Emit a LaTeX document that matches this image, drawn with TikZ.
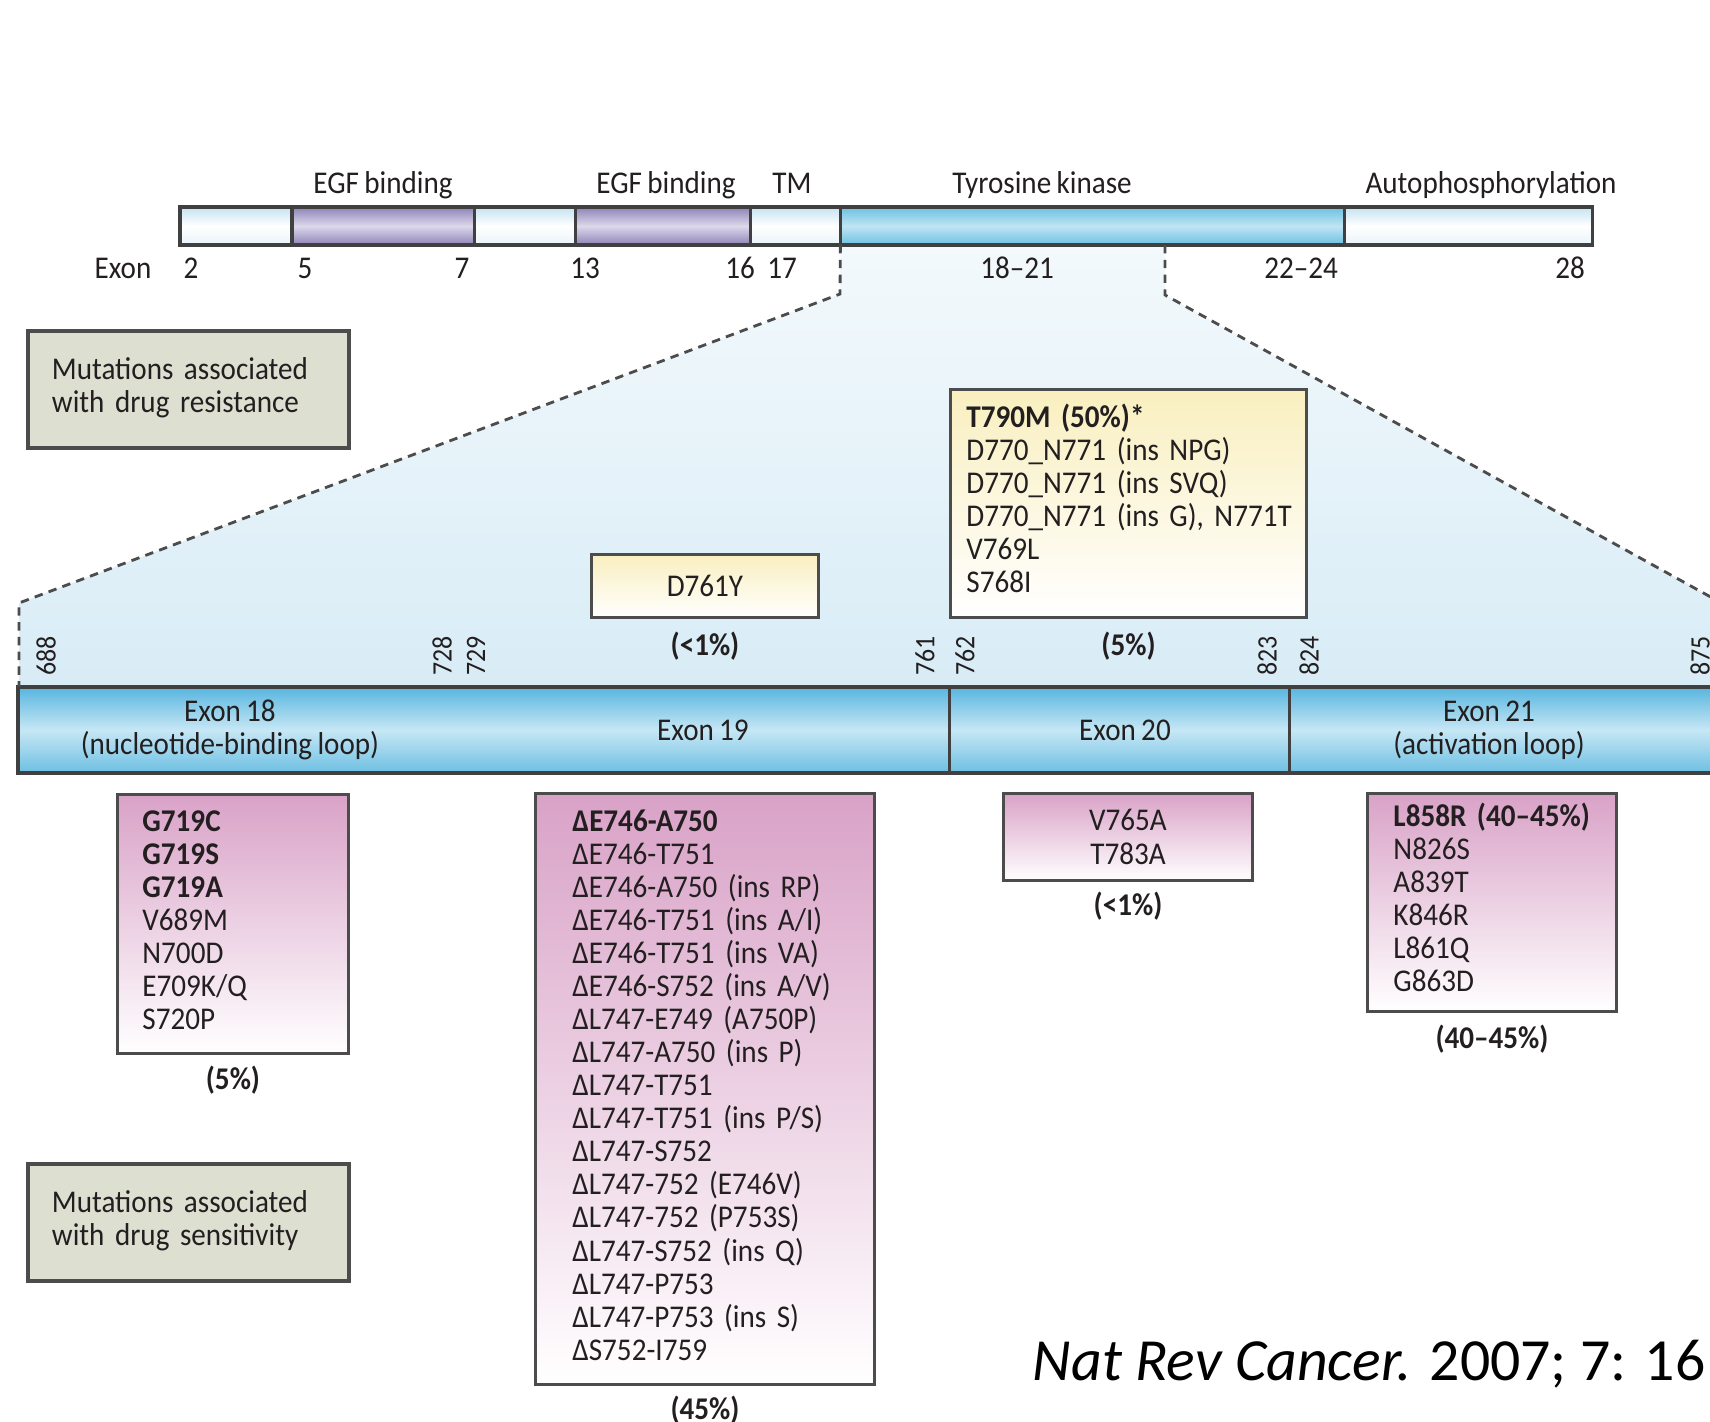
\documentclass[tikz,border=0pt]{standalone}
\usepackage{fontspec}
\setmainfont{Carlito}[FakeStretch=0.92]
\newfontfamily\citefont{Carlito}
\usetikzlibrary{positioning,backgrounds}

\newcommand\tightspace{\spaceskip=0.17em plus 0.05em minus 0.02em\relax}

\definecolor{liteTop}{HTML}{C4E3F1}
\definecolor{liteBot}{HTML}{E8F4FA}
\definecolor{purpEdge}{HTML}{8E82B7}
\definecolor{purpMid}{HTML}{DDD8EB}
\definecolor{kinEdge}{HTML}{6CC1E2}
\definecolor{kinMid}{HTML}{C0E4F3}
\definecolor{exTop}{HTML}{57B5DE}
\definecolor{exMid}{HTML}{C6E7F5}
\definecolor{exBot}{HTML}{6DBFE2}
\definecolor{fanTop}{HTML}{F3F9FC}
\definecolor{fanBot}{HTML}{D8ECF6}
\definecolor{mauve}{HTML}{D9A2C7}
\definecolor{paleYel}{HTML}{F9EFBF}
\definecolor{legGrey}{HTML}{DDDFD1}
\definecolor{ink}{HTML}{231F20}

\begin{document}
\begin{tikzpicture}[
  x=0.01cm, y=-0.01cm,
  font=\fontsize{9}{9.4}\selectfont\tightspace, text=ink,
  segm/.style={draw=black!75, line width=0.9pt, minimum height=0.38cm, inner sep=0, outer sep=0},
  lite/.style={segm, top color=liteTop, bottom color=liteBot, middle color=white},
  purp/.style={segm, top color=purpEdge, bottom color=purpEdge, middle color=purpMid},
  kin/.style={segm, top color=kinEdge, bottom color=kinEdge, middle color=kinMid},
  exbar/.style={draw=black!75, line width=0.9pt, minimum height=0.86cm, inner sep=0, outer sep=0,
    top color=exTop, bottom color=exBot, middle color=exMid},
  lbl/.style={inner sep=0, anchor=base},
  aanum/.style={font=\fontsize{8}{8}\selectfont, rotate=90, anchor=west, inner sep=0},
  mutbox/.style={draw=black!70, line width=0.8pt, top color=mauve, bottom color=white,
    anchor=north west, inner ysep=0pt, align=left},
  resbox/.style={draw=black!70, line width=0.8pt, top color=paleYel, bottom color=white,
    anchor=north west, inner ysep=0pt, align=left},
  legbox/.style={draw=black!70, line width=1.1pt, fill=legGrey, anchor=north west, align=left,
    text width=2.73cm, inner xsep=0.24cm, inner ysep=0pt, minimum height=1.17cm},
  pct/.style={font=\fontsize{9}{9.4}\selectfont\bfseries, inner sep=0},
  cut/.style={draw=black!70, line width=0.8pt, dash pattern=on 2.4pt off 1.8pt},
]
\useasboundingbox (0,0) rectangle (1710,1421);

% ---------------- protein bar ----------------
\node[lite, minimum width=1.12cm, anchor=north west] (s1) at (180,207) {};
\node[purp, right=0pt of s1, minimum width=1.82cm] (s2) {};
\node[lite, right=0pt of s2, minimum width=1.01cm] (s3) {};
\node[purp, right=0pt of s3, minimum width=1.75cm] (s4) {};
\node[lite, right=0pt of s4, minimum width=0.90cm] (s5) {};
\node[kin, right=0pt of s5, minimum width=5.04cm] (s6) {};
\node[lite, right=0pt of s6, minimum width=2.48cm] (s7) {};

\node[lbl] (egf1) at (383,193) {EGF binding};
\node[lbl] (egf2) at (666,193) {EGF binding};
\node[lbl] (tm) at (792,193) {TM};
\node[lbl] (tk) at (1042,193) {Tyrosine kinase};
\node[lbl] (auto) at (1491,193) {Autophosphorylation};

\node[lbl] (exword) at (123,278) {Exon};
\node[lbl] (e2) at (191,278) {2};
\node[lbl] (e5) at (305,278) {5};
\node[lbl] (e7) at (462,278) {7};
\node[lbl] (e13) at (585,278) {13};
\node[lbl] (e16) at (740,278) {16};
\node[lbl] (e17) at (782,278) {17};
\node[lbl] (e1821) at (1017,278) {18--21};
\node[lbl] (e2224) at (1301,278) {22--24};
\node[lbl] (e28) at (1570,278) {28};

% ---------------- kinase domain ----------------
\node[exbar, minimum width=9.31cm, anchor=north west] (ex1819) at (18,687) {};
\node[exbar, right=0pt of ex1819, minimum width=3.40cm] (ex20) {};
\node[exbar, right=0pt of ex20, minimum width=4.56cm] (ex21) {};

\node[align=center] (lab18) at (230,730) {Exon 18\\(nucleotide-binding loop)};
\node (lab19) at (703,730) {Exon 19};
\node (lab20) at (1125,730) {Exon 20};
\node[align=center] (lab21) at (1489,730) {Exon 21\\(activation loop)};

\foreach \xx/\nn in {46/688, 442/728, 476/729, 925/761, 965/762, 1267/823, 1309/824, 1700/875}
  \node[aanum] (aa\nn) at (\xx,676) {\nn};

% ---------------- zoom lines ----------------
\coordinate (cutR) at (1165,245);
\coordinate (bendL1) at (840,294);
\coordinate (bendL2) at (19,603);
\coordinate (bendR1) at (1165,295);
\coordinate (bendR2) at (1745,616);
\coordinate (fanBR) at (1745,687);

\begin{scope}[on background layer]
\fill[white] (0,0) rectangle (1710,1421);
\shade[top color=fanTop, bottom color=fanBot] (s6.south west) -- (cutR) -- (bendR1) -- (bendR2)
  -- (fanBR) -- (bendL2 |- ex1819.north) -- (bendL2) -- (bendL1) -- cycle;
\end{scope}
\draw[cut] (s6.south west) -- (bendL1) -- (bendL2) -- (bendL2 |- ex1819.north);
\draw[cut] (cutR) -- (bendR1) -- (bendR2);

% ---------------- resistance ----------------
\node[legbox] (legres) at (26,329)
  {\begin{tabular}{@{}l@{}}Mutations associated\\with drug resistance\end{tabular}};

\node[resbox, align=center, minimum width=2.27cm, minimum height=0.63cm, inner xsep=0pt] (d761) at (590,553) {D761Y};
\node[pct, below=1.2mm of d761] (pd761) {(<1\%)};

\node[resbox, text width=3.24cm, inner xsep=0.16cm, minimum height=2.28cm] (t790) at (949,388)
  {\begin{tabular}{@{}l@{}}
    \textbf{T790M (50\%)*}\\
    D770\_N771 (ins NPG)\\
    D770\_N771 (ins SVQ)\\
    D770\_N771 (ins G), N771T\\
    V769L\\
    S768I
  \end{tabular}};
\node[pct, below=1.2mm of t790] (pt790) {(5\%)};

% ---------------- sensitivity ----------------
\node[mutbox, text width=1.81cm, inner xsep=0.25cm, minimum height=2.59cm] (g719) at (116,793)
  {\begin{tabular}{@{}l@{}}
    \textbf{G719C}\\ \textbf{G719S}\\ \textbf{G719A}\\
    V689M\\ N700D\\ E709K/Q\\ S720P
  \end{tabular}};
\node[pct, below=1mm of g719] (pg719) {(5\%)};

\node[mutbox, text width=2.65cm, inner xsep=0.37cm, minimum height=5.91cm] (del19) at (534,792)
  {\begin{tabular}{@{}l@{}}
    \textbf{ΔE746-A750}\\
    ΔE746-T751\\
    ΔE746-A750 (ins RP)\\
    ΔE746-T751 (ins A/I)\\
    ΔE746-T751 (ins VA)\\
    ΔE746-S752 (ins A/V)\\
    ΔL747-E749 (A750P)\\
    ΔL747-A750 (ins P)\\
    ΔL747-T751\\
    ΔL747-T751 (ins P/S)\\
    ΔL747-S752\\
    ΔL747-752 (E746V)\\
    ΔL747-752 (P753S)\\
    ΔL747-S752 (ins Q)\\
    ΔL747-P753\\
    ΔL747-P753 (ins S)\\
    ΔS752-I759
  \end{tabular}};
\node[pct, below=0.9mm of del19] (pdel19) {(45\%)};

\node[mutbox, align=center, minimum width=2.49cm, minimum height=0.87cm, inner xsep=0pt] (v765) at (1002,792)
  {V765A\\T783A};
\node[pct, below=0.9mm of v765] (pv765) {(<1\%)};

\node[mutbox, text width=1.97cm, inner xsep=0.26cm, minimum height=2.18cm] (l858) at (1366,792)
  {\begin{tabular}{@{}l@{}}
    \textbf{L858R (40--45\%)}\\
    N826S\\ A839T\\ K846R\\ L861Q\\ G863D
  \end{tabular}};
\node[pct, below=1.1mm of l858] (pl858) {(40--45\%)};

\node[legbox] (legsens) at (26,1162)
  {\begin{tabular}{@{}l@{}}Mutations associated\\with drug sensitivity\end{tabular}};

% ---------------- source ----------------
\node[anchor=base west, inner sep=0, text=black, font=\citefont\fontsize{17}{20}\selectfont] (cite) at (1032,1380)
  {\textit{Nat Rev Cancer.} 2007; 7: 16};
\end{tikzpicture}
\end{document}
